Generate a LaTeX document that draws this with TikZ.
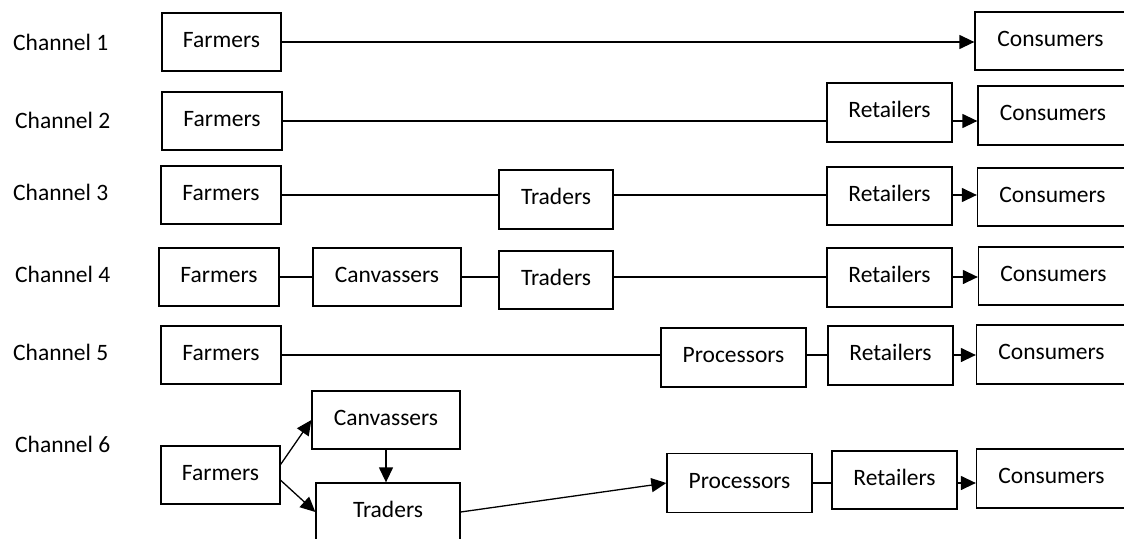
\documentclass[tikz,border=0pt]{standalone}
\usepackage{fontspec}
\setmainfont{Carlito}
\usetikzlibrary{shapes,arrows.meta,positioning}

\begin{document}
\begin{tikzpicture}[x=1pt, y=-1pt,
    font=\fontsize{23.5pt}{28pt}\selectfont,
    box/.style={draw, line width=1.3pt, inner sep=0pt, minimum height=58pt,
      text height=16pt, text depth=6pt},
    chan/.style={anchor=west, inner sep=0pt},
    link/.style={line width=1.3pt},
    flow/.style={link, -{Triangle[length=15pt, width=14pt]}}]
    \clip (0,0) rectangle (1124,538);

    % Channel labels
    \foreach \n/\x/\y in {1/13/42, 2/15/120, 3/13/192, 4/15/274, 5/13/352, 6/15/444} {
      \node[chan] (ch\n) at (\x,\y) {Channel \n};
    }

    % Channel 1
    \node[box, minimum width=119] (F1) at (221.5,42) {Farmers};
    \node[box, minimum width=151] (C1) at (1050.5,41) {Consumers};
    \draw[flow] (F1.east) -- (F1.east -| C1.west);

    % Channel 2
    \node[box, minimum width=120] (F2) at (222,121) {Farmers};
    \node[box, minimum width=125, minimum height=59] (R2) at (889.5,112.5) {Retailers};
    \node[box, minimum width=150, minimum height=59] (C2) at (1053,115.5) {Consumers};
    \draw[link] (F2.east) -- (F2.east -| R2.west);
    \draw[flow] (F2.east -| R2.east) -- (F2.east -| C2.west);

    % Channel 3
    \node[box, minimum width=120] (F3) at (221,195) {Farmers};
    \node[box, minimum width=114, minimum height=59] (T3) at (556,199.5) {Traders};
    \node[box, minimum width=125] (R3) at (889.5,196) {Retailers};
    \node[box, minimum width=150] (C3) at (1052.5,197) {Consumers};
    \draw[link] (F3.east) -- (F3.east -| T3.west);
    \draw[link] (F3.east -| T3.east) -- (F3.east -| R3.west);
    \draw[flow] (F3.east -| R3.east) -- (F3.east -| C3.west);

    % Channel 4
    \node[box, minimum width=120] (F4) at (219,277) {Farmers};
    \node[box, minimum width=148] (V4) at (387,277) {Canvassers};
    \node[box, minimum width=114] (T4) at (556,280) {Traders};
    \node[box, minimum width=125, minimum height=59] (R4) at (889.5,277.5) {Retailers};
    \node[box, minimum width=150] (C4) at (1053.5,276) {Consumers};
    \draw[link] (F4.east) -- (V4.west);
    \draw[link] (V4.east) -- (V4.east -| T4.west);
    \draw[link] (V4.east -| T4.east) -- (V4.east -| R4.west);
    \draw[flow] (V4.east -| R4.east) -- (V4.east -| C4.west);

    % Channel 5
    \node[box, minimum width=120] (F5) at (221,355) {Farmers};
    \node[box, minimum width=145, minimum height=59] (P5) at (733.5,357.5) {Processors};
    \node[box, minimum width=125, minimum height=59] (R5) at (890.5,355.5) {Retailers};
    \node[box, minimum width=150, minimum height=59] (C5) at (1051.5,354.5) {Consumers};
    \draw[link] (F5.east) -- (F5.east -| P5.west);
    \draw[link] (F5.east -| P5.east) -- (F5.east -| R5.west);
    \draw[flow] (F5.east -| R5.east) -- (F5.east -| C5.west);

    % Channel 6
    \node[box, minimum width=119] (F6) at (220.5,475) {Farmers};
    \node[box, minimum width=148] (V6) at (386,420) {Canvassers};
    \node[box, minimum width=144] (T6) at (388,512) {Traders};
    \node[box, minimum width=145, minimum height=59] (P6) at (739.5,483) {Processors};
    \node[box, minimum width=125] (R6) at (894.5,480) {Retailers};
    \node[box, minimum width=150, minimum height=59] (C6) at (1051.5,478.5) {Consumers};
    \draw[flow] (F6.10) -- (V6.west);
    \draw[flow] (F6.-5) -- (T6.west);
    \draw[flow] (V6.south) -- (V6.south |- T6.north);
    \draw[flow] (T6.east) -- (P6.west);
    \draw[link] (P6.east) -- (P6.east -| R6.west);
    \draw[flow] (P6.east -| R6.east) -- (P6.east -| C6.west);
\end{tikzpicture}
\end{document}
